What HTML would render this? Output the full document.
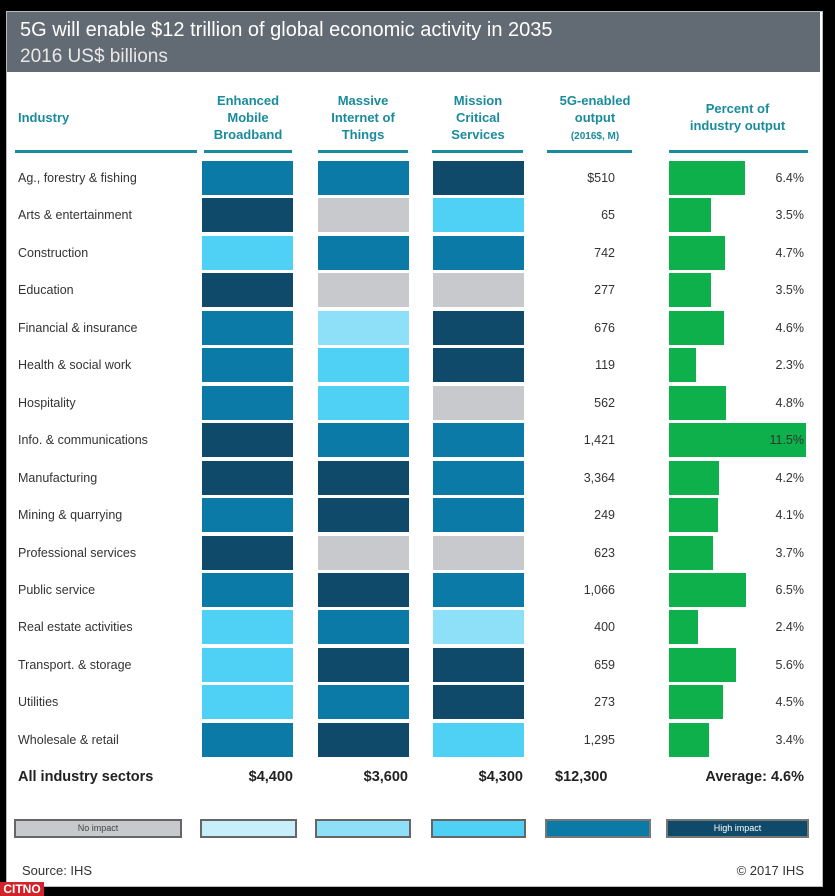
<!DOCTYPE html>
<html><head><style>
body{margin:0;width:835px;height:896px;background:#000;position:relative;overflow:hidden;font-family:"Liberation Sans",sans-serif}
.p{position:absolute;left:6px;top:11px;width:815px;height:874px;background:#fff;border:1px solid #bbb}
.hd{position:absolute;left:7px;top:12px;width:813px;height:60px;background:#626b73;color:#fff}
.a{position:absolute}
.b{position:absolute;height:34px}
.t{position:absolute;font-size:12.5px;color:#333}
.h{position:absolute;color:#1a8b9c;font-weight:bold;font-size:13px;text-align:center;line-height:17px}
.u{position:absolute;top:150px;height:3px;background:#1a8b9c}
.lg{position:absolute;top:819px;height:19px;border:2px solid #666;box-sizing:border-box;font-size:9px;text-align:center;line-height:15px}
</style></head><body>
<div class="p"></div>
<div class="hd"><div class="a" style="left:13px;top:7px;font-size:20px">5G will enable $12 trillion of global economic activity in 2035</div><div class="a" style="left:13px;top:34px;font-size:19px;color:#e8e8e8">2016 US$ billions</div></div>
<div class="h" style="left:18px;top:109px;text-align:left">Industry</div>
<div class="h" style="left:202px;top:92px;width:92px">Enhanced<br>Mobile<br>Broadband</div>
<div class="h" style="left:316px;top:92px;width:94px">Massive<br>Internet of<br>Things</div>
<div class="h" style="left:432px;top:92px;width:92px">Mission<br>Critical<br>Services</div>
<div class="h" style="left:545px;top:92px;width:100px">5G-enabled<br>output<br><span style="font-size:10px">(2016$, M)</span></div>
<div class="h" style="left:665px;top:100px;width:145px">Percent of<br>industry output</div>
<div class="u" style="left:15px;width:182px"></div><div class="u" style="left:204px;width:88px"></div><div class="u" style="left:318px;width:90px"></div><div class="u" style="left:432px;width:91px"></div><div class="u" style="left:547px;width:85px"></div><div class="u" style="left:669px;width:139px"></div>
<div id="rows"></div>
<div class="t" style="left:18px;top:769px;font-size:14.5px;font-weight:bold;color:#222">All industry sectors</div>
<div class="t" style="left:200px;top:769px;width:93px;text-align:right;font-size:14.5px;font-weight:bold;color:#222">$4,400</div>
<div class="t" style="left:315px;top:769px;width:93px;text-align:right;font-size:14.5px;font-weight:bold;color:#222">$3,600</div>
<div class="t" style="left:430px;top:769px;width:93px;text-align:right;font-size:14.5px;font-weight:bold;color:#222">$4,300</div>
<div class="t" style="left:555px;top:769px;font-size:14.5px;font-weight:bold;color:#222">$12,300</div>
<div class="t" style="left:650px;top:769px;width:154px;text-align:right;font-size:14.5px;font-weight:bold;color:#222">Average: 4.6%</div>
<div class="lg" style="left:14px;width:168px;background:#c8c9cc;color:#444">No impact</div>
<div class="lg" style="left:200px;width:97px;background:#c7eefb"></div>
<div class="lg" style="left:315px;width:96px;background:#8ee0f8"></div>
<div class="lg" style="left:431px;width:95px;background:#4fd0f5"></div>
<div class="lg" style="left:545px;width:106px;background:#0b7aa6;border-color:#777"></div>
<div class="lg" style="left:666px;width:143px;background:#0f4a6a;color:#fff;border-color:#777">High impact</div>
<div class="t" style="left:22px;top:863px;font-size:13px">Source: IHS</div>
<div class="t" style="left:720px;top:863px;width:84px;text-align:right;font-size:13px">© 2017 IHS</div>
<div class="a" style="left:0;top:882px;width:44px;height:14px;background:#d2232a;color:#fff;font-size:12px;font-weight:bold;line-height:14px;text-align:center">CITNO</div>
<script>
var C={d:'#0f4a6a',m:'#0b7aa6',c:'#4fd0f5',l:'#8ee0f8',g:'#c8c9cc'};
var R=[["Ag., forestry & fishing","mmd","$510",6.4],["Arts & entertainment","dgc","65",3.5],["Construction","cmm","742",4.7],["Education","dgg","277",3.5],["Financial & insurance","mld","676",4.6],["Health & social work","mcd","119",2.3],["Hospitality","mcg","562",4.8],["Info. & communications","dmm","1,421",11.5],["Manufacturing","ddm","3,364",4.2],["Mining & quarrying","mdm","249",4.1],["Professional services","dgg","623",3.7],["Public service","mdm","1,066",6.5],["Real estate activities","cml","400",2.4],["Transport. & storage","cdd","659",5.6],["Utilities","cmd","273",4.5],["Wholesale & retail","mdc","1,295",3.4]];
var h='',X=[202,318,433];
R.forEach(function(r,i){var y=161+i*37.45;
h+='<div class="t" style="left:18px;top:'+(y+10)+'px">'+r[0].replace('&','&amp;')+'</div>';
for(var k=0;k<3;k++)h+='<div class="b" style="left:'+X[k]+'px;top:'+y+'px;width:91px;background:'+C[r[1][k]]+'"></div>';
h+='<div class="t" style="left:560px;top:'+(y+10)+'px;width:55px;text-align:right">'+r[2]+'</div>';
h+='<div class="b" style="left:669px;top:'+y+'px;width:'+(r[3]*11.9)+'px;background:#0db04b"></div>';
h+='<div class="t" style="left:740px;top:'+(y+10)+'px;width:64px;text-align:right">'+r[3].toFixed(1)+'%</div>';});
document.getElementById('rows').innerHTML=h;
</script>
</body></html>
